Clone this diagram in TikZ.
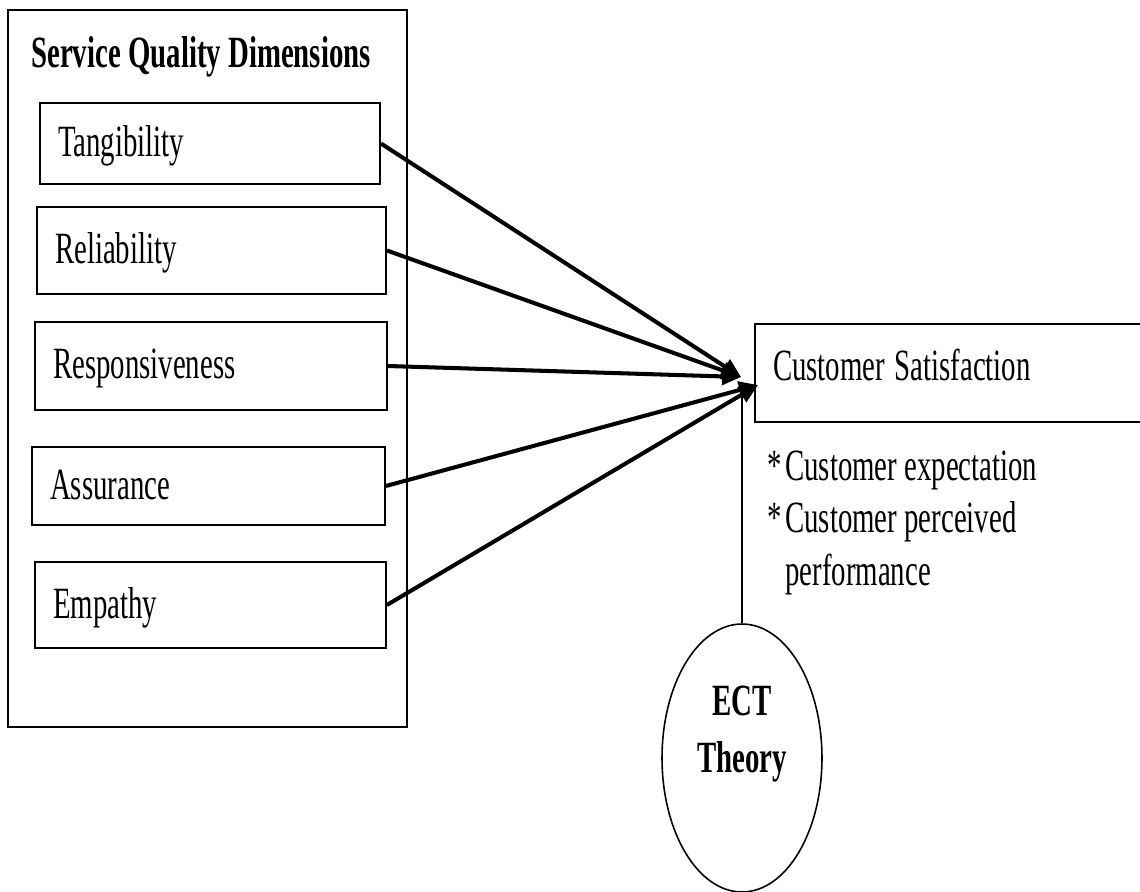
\documentclass[tikz,border=0pt]{standalone}
\usepackage{fontspec}
\setmainfont{Liberation Serif}
\usepackage{graphicx}
\usetikzlibrary{arrows.meta,positioning,shapes.geometric}

\newcommand{\tall}[1]{\scalebox{1}[1.55]{#1}}
\newcommand{\qsize}{\fontsize{16.4}{19.3}\selectfont}
\newcommand{\ectsize}{\fontsize{16.4}{21.2}\selectfont\bfseries}

\begin{document}
\begin{tikzpicture}[
            x=0.02cm, y=-0.02cm,
            dimbox/.style={draw=black, line width=1.1pt, inner xsep=0.36cm, inner ysep=0pt,
                           align=left, text height=0.62cm, text depth=0.1cm, font=\qsize},
            outerbox/.style={draw=black, line width=0.9pt, minimum width=7.98cm, minimum height=14.34cm},
            satbox/.style={draw=black, line width=1.1pt, inner xsep=0.36cm, inner ysep=0pt,
                           align=left, text width=7.08cm, minimum height=1.96cm,
                           text depth=0.32cm, font=\qsize},
            ectshape/.style={ellipse, draw=black, line width=0.9pt, minimum width=3.2cm, minimum height=5.36cm},
            plain/.style={inner sep=0pt, font=\qsize},
            arr/.style={line width=2.3pt, -{Triangle[length=0.38cm,width=0.34cm]}}
          ]
          \useasboundingbox (0,0) rectangle (1140,892);

          % service quality dimensions
          \node[outerbox] (dims) at (207.5,368.5) {};
          \node[plain, anchor=base west] (title) at (31,68) {\tall{\bfseries Service Quality Dimensions}};
          \node[dimbox, text width=6.08cm, minimum height=1.62cm] (tang) at (210,143.5) {\tall{Tangibility}};
          \node[dimbox, text width=6.26cm, minimum height=1.74cm] (reli) at (211.5,250.5) {\tall{Reliability}};
          \node[dimbox, text width=6.32cm, minimum height=1.76cm] (resp) at (211,366) {\tall{Responsiveness}};
          \node[dimbox, text width=6.34cm, minimum height=1.56cm] (assu) at (208.5,486) {\tall{Assurance}};
          \node[dimbox, text width=6.30cm, minimum height=1.72cm] (empa) at (210.5,605) {\tall{Empathy}};

          % satisfaction and ECT
          \node[satbox] (sat) at (950,373) {\tall{Customer Satisfaction}};
          \node[plain, anchor=base west] (cues) at (767,480)
            {\tall{\begin{tabular}[t]{@{}l@{\hspace{2pt}}l@{}}{*}&Customer expectation\\ {*}&Customer perceived\\ &performance\end{tabular}}};
          \node[ectshape] (ect) at (742,758) {};
          \node[inner sep=0pt, font=\ectsize, anchor=base] (ectlabel) at (742,715)
            {\tall{\begin{tabular}[t]{@{}c@{}}ECT\\ Theory\end{tabular}}};

          \coordinate (tipA) at (741,377);
          \coordinate (tipB) at (758,385);
          \coordinate (hub) at (742,385);

          \draw[arr] (tang.east) -- (tipA);
          \draw[arr] (reli.east) -- (tipA);
          \draw[arr] (resp.east) -- (tipA);
          \draw[arr] (assu.east) -- (tipB);
          \draw[arr] (empa.east) -- (tipB);
          \draw[line width=0.8pt] (ect.north) -- (hub);
        \end{tikzpicture}
\end{document}
